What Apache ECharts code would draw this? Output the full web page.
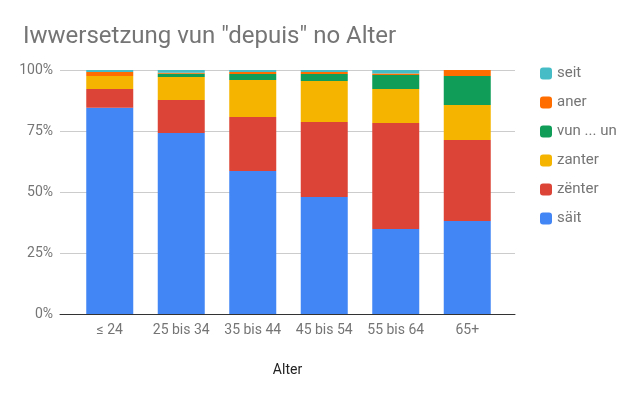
<!DOCTYPE html>
<html><head><meta charset="utf-8">
<script src="https://cdn.jsdelivr.net/npm/echarts@6/dist/echarts.min.js"></script>
<style>html,body{margin:0;padding:0;background:#fff}#c{width:640px;height:396px}</style>
</head><body><div id="c"></div>
<script>
const categories = ["≤ 24", "25 bis 34", "35 bis 44", "45 bis 54", "55 bis 64", "65+"];
const saeit  = [84.5, 74.2, 58.6, 48.0, 34.8, 38.1];
const zenter = [7.7, 13.5, 22.1, 30.7, 43.5, 33.2];
const zanter = [5.3, 9.4, 15.2, 16.8, 13.9, 14.4];
const vunun  = [0.0, 1.4, 2.5, 2.9, 5.8, 11.8];
const aner   = [1.7, 0.4, 0.8, 0.8, 0.6, 2.5];
const seit   = [0.8, 1.1, 0.8, 0.8, 1.4, 0.0];
const yTicks = [0, 25, 50, 75, 100];

const seriesDefs = [
  ["säit", saeit, "#4285f4"],
  ["zënter", zenter, "#db4437"],
  ["zanter", zanter, "#f4b400"],
  ["vun ... un", vunun, "#0f9d58"],
  ["aner", aner, "#ff6d00"],
  ["seit", seit, "#46bdc6"]
];
const font = "Roboto";
const chart = echarts.init(document.getElementById('c'));
chart.setOption({
  animation: false,
  textStyle: {fontFamily: font},
  title: {text: 'Iwwersetzung vun "depuis" no Alter', left: 18, top: 20,
    textStyle: {fontFamily: font, fontSize: 24, fontWeight: 'normal', color: '#757575'}},
  legend: {orient: 'vertical', left: 535, top: 61, itemGap: 14, itemWidth: 12, itemHeight: 12,
    icon: 'roundRect',
    data: ["seit", "aner", "vun ... un", "zanter", "zënter", "säit"],
    textStyle: {fontFamily: font, fontSize: 15, color: '#757575'}},
  grid: [
    {left: 74, right: 137, top: 70, bottom: 82},
    {left: 60, right: 125, top: 70, bottom: 82}
  ],
  xAxis: [
    {type: 'category', gridIndex: 0, data: categories,
      axisLine: {show: false}, axisTick: {show: false},
      axisLabel: {interval: 0, margin: 9, fontFamily: font, fontSize: 14, color: '#757575'}},
    {type: 'value', gridIndex: 1, min: 0, max: 1, show: true,
      axisLine: {show: true, onZero: false, lineStyle: {color: '#333', width: 1}},
      axisTick: {show: false}, axisLabel: {show: false}, splitLine: {show: false},
      name: 'Alter', nameLocation: 'middle', nameGap: 49,
      nameTextStyle: {fontFamily: font, fontSize: 14, color: '#222'}}
  ],
  yAxis: [
    {type: 'value', gridIndex: 0, min: 0, max: 100, show: false},
    {type: 'value', gridIndex: 1, min: 0, max: 100, interval: 25,
      axisLine: {show: false}, axisTick: {show: false},
      axisLabel: {margin: 7, fontFamily: font, fontSize: 14, color: '#757575',
        formatter: v => yTicks.includes(v) ? v + '%' : ''},
      splitLine: {lineStyle: {color: '#cccccc'}}}
  ],
  series: seriesDefs.map(([name, data, color]) => ({
    name, type: 'bar', stack: 'all', data, xAxisIndex: 0, yAxisIndex: 0,
    barWidth: 47, itemStyle: {color}, z: 3
  }))
});
</script></body></html>
